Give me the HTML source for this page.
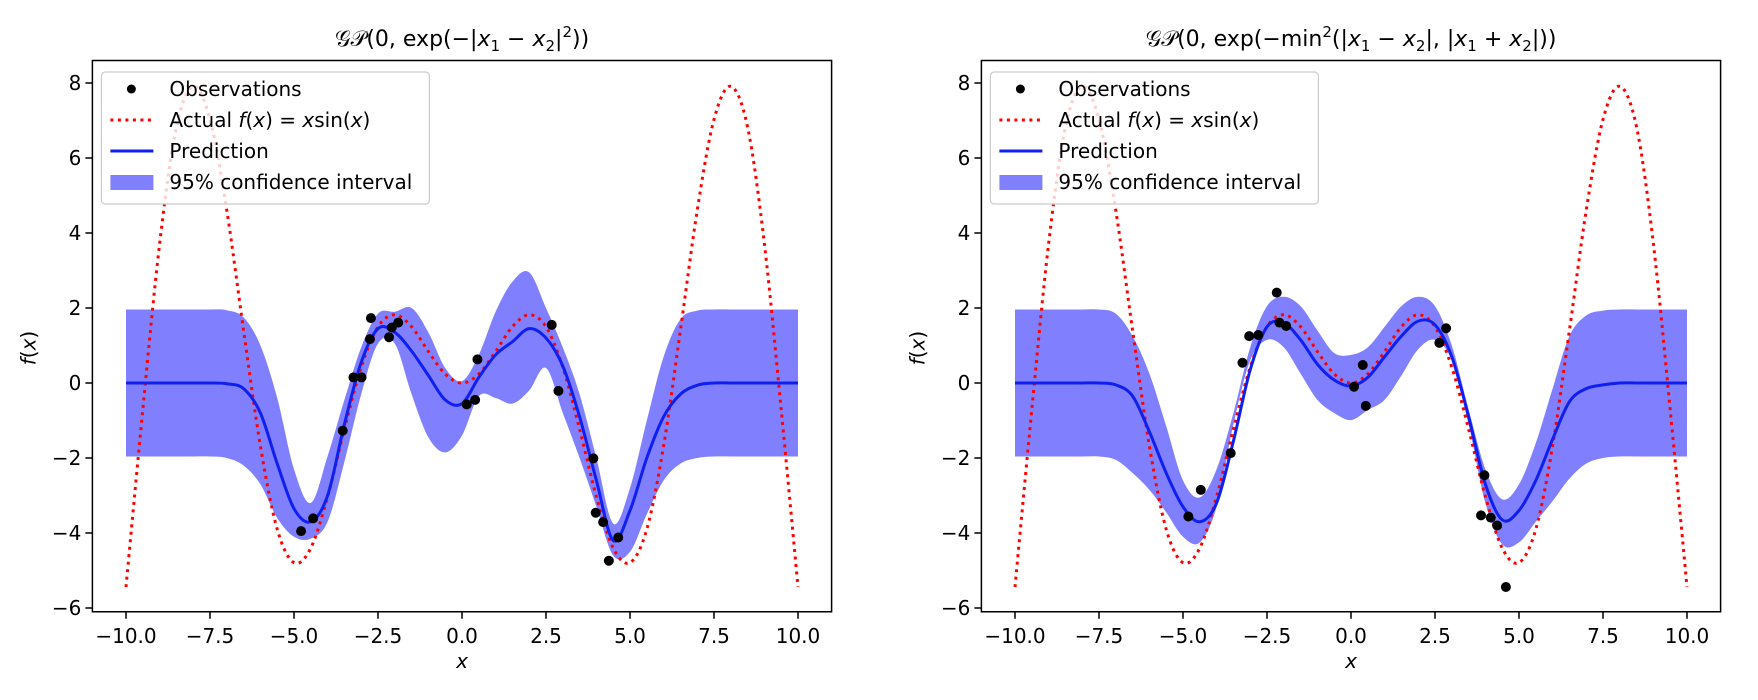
<!DOCTYPE html>
<html><head><meta charset="utf-8"><style>
html,body{margin:0;padding:0;background:#fff;}
svg{display:block;font-family:"DejaVu Sans","Liberation Sans",sans-serif;}
</style></head><body>
<svg id="fig" width="1758" height="700" viewBox="0 0 1758 700"></svg>
<script>
const gridX = [-10,-9.5,-9,-8.5,-8,-7.5,-7,-6.5,-6,-5.5,-5,-4.5,-4,-3.5,-3,-2.5,-2,-1.5,-1,-0.5,0,0.5,1,1.5,2,2.5,3,3.5,4,4.5,5,5.5,6,6.5,7,7.5,8,8.5,9,9.5,10];
const actualY = [-5.44,-0.71,3.71,6.82,7.91,7.03,4.60,1.40,-1.68,-3.90,-4.79,-4.40,-3.03,-1.23,0.42,1.50,1.82,1.50,0.84,0.24,0,0.24,0.84,1.50,1.82,1.50,0.42,-1.23,-3.03,-4.40,-4.79,-3.90,-1.68,1.40,4.60,7.03,7.91,6.82,3.71,-0.71,-5.44];

const leftMean  = [0,0,0,0,0,0,-0.02,-0.15,-0.8,-2.15,-3.35,-3.7,-3.0,-1.1,0.55,1.45,1.35,0.85,0.2,-0.45,-0.55,0.15,0.75,1.1,1.45,1.2,0.45,-0.9,-2.6,-4.2,-3.4,-2.0,-0.9,-0.3,-0.06,0,0,0,0,0,0];
const leftUpper = [1.96,1.96,1.96,1.96,1.96,1.96,1.94,1.75,1.0,-0.4,-2.3,-3.2,-1.95,-0.45,0.95,1.85,1.9,2.0,1.35,0.4,0.05,0.75,1.9,2.7,2.95,2.0,0.95,-0.3,-2.0,-3.75,-2.8,-1.0,0.7,1.7,1.93,1.96,1.96,1.96,1.96,1.96,1.96];
const leftLower = [-1.96,-1.96,-1.96,-1.96,-1.96,-1.96,-2.0,-2.2,-2.7,-3.6,-4.1,-4.15,-3.7,-2.1,-0.3,1.05,1.05,-0.3,-1.45,-1.85,-1.4,-0.35,-0.4,-0.55,-0.2,0.4,-0.8,-2.0,-3.3,-4.6,-4.5,-3.5,-2.6,-2.15,-2.0,-1.96,-1.96,-1.96,-1.96,-1.96,-1.96];
const leftObsX = [-4.79,-4.43,-3.55,-3.23,-2.99,-2.74,-2.71,-2.17,-2.09,-1.9,0.14,0.39,0.46,2.67,2.87,3.91,3.98,4.2,4.37,4.65];
const leftObsY = [-3.95,-3.61,-1.27,0.15,0.15,1.17,1.73,1.22,1.48,1.61,-0.57,-0.45,0.63,1.55,-0.21,-2.01,-3.46,-3.71,-4.74,-4.12];

const rightMean  = [0,0,0,0,0,0,-0.05,-0.35,-1.3,-2.4,-3.3,-3.7,-3.2,-1.55,0.35,1.5,1.6,1.15,0.5,0.08,-0.08,0.15,0.7,1.25,1.65,1.55,0.7,-0.9,-2.7,-3.65,-3.4,-2.6,-1.5,-0.5,-0.15,-0.05,0,0,0,0,0];
const rightUpper = [1.96,1.96,1.96,1.96,1.96,1.96,1.85,1.25,0.25,-1.15,-2.6,-3.05,-2.3,-0.8,0.95,2.05,2.3,2.05,1.4,0.8,0.75,0.95,1.5,2.05,2.3,2.05,1.0,-0.7,-2.3,-3.1,-2.7,-1.6,-0.15,1.25,1.8,1.93,1.96,1.96,1.96,1.96,1.96];
const rightLower = [-1.96,-1.96,-1.96,-1.96,-1.96,-1.96,-2.05,-2.4,-2.85,-3.45,-4.1,-4.25,-3.3,-1.1,0.6,1.15,0.95,0.25,-0.45,-0.8,-0.99,-0.72,-0.45,0.2,0.9,1.15,0.6,-1.1,-3.2,-4.3,-4.25,-3.7,-3.15,-2.55,-2.15,-2.0,-1.96,-1.96,-1.96,-1.96,-1.96];
const rightObsX = [-4.84,-4.47,-3.58,-3.23,-3.03,-2.76,-2.21,-2.13,-1.93,0.09,0.35,0.44,2.63,2.83,3.87,3.97,4.16,4.35,4.61];
const rightObsY = [-3.56,-2.85,-1.87,0.54,1.25,1.28,2.41,1.61,1.52,-0.1,0.48,-0.61,1.07,1.46,-3.53,-2.46,-3.59,-3.8,-5.44];

const xTicks = [-10,-7.5,-5,-2.5,0,2.5,5,7.5,10];
const xTickLabels = ["−10.0","−7.5","−5.0","−2.5","0.0","2.5","5.0","7.5","10.0"];
const yTicks = [-6,-4,-2,0,2,4,6,8];
const yTickLabels = ["−6","−4","−2","0","2","4","6","8"];

const NS = "http://www.w3.org/2000/svg";
const svg = document.getElementById('fig');
function mk(tag, attrs, parent){
  const e = document.createElementNS(NS, tag);
  for (const k in attrs) e.setAttribute(k, attrs[k]);
  (parent||svg).appendChild(e);
  return e;
}
function smooth(pts){
  let d = "M"+pts[0][0].toFixed(2)+","+pts[0][1].toFixed(2);
  for (let i=0;i<pts.length-1;i++){
    const p0=pts[Math.max(0,i-1)], p1=pts[i], p2=pts[i+1], p3=pts[Math.min(pts.length-1,i+2)];
    const c1=[p1[0]+(p2[0]-p0[0])/6, p1[1]+(p2[1]-p0[1])/6];
    const c2=[p2[0]-(p3[0]-p1[0])/6, p2[1]-(p3[1]-p1[1])/6];
    d += " C"+c1[0].toFixed(2)+","+c1[1].toFixed(2)+" "+c2[0].toFixed(2)+","+c2[1].toFixed(2)+" "+p2[0].toFixed(2)+","+p2[1].toFixed(2);
  }
  return d;
}

function panel(cfg){
  const x0 = cfg.x0, ppx = 33.6, ppy = 37.5, y0 = 383;
  const sx = v => x0 + v*ppx;
  const sy = v => y0 - v*ppy;
  const left = sx(-11), right = sx(11), top = sy(8.6), bottom = sy(-6.1);
  const g = mk('g', {});
  
  

  // band
  const up = gridX.map((x,i)=>[sx(x), sy(cfg.upper[i])]);
  const lo = gridX.map((x,i)=>[sx(x), sy(cfg.lower[i])]).reverse();
  const band = mk('path', {d: smooth(up) + " L" + smooth(lo).slice(1) + " Z", fill:"#8080ff", stroke:"none"}, g);
  
  

  // actual
  const act = mk('path', {d: smooth(gridX.map((x,i)=>[sx(x), sy(actualY[i])])), fill:"none", stroke:"#ff0000", "stroke-width":3, "stroke-dasharray":"3 4.5"}, g);
  
  

  // mean
  const mean = mk('path', {d: smooth(gridX.map((x,i)=>[sx(x), sy(cfg.mean[i])])), fill:"none", stroke:"#0f1ff0", "stroke-width":3}, g);
  
  

  // obs
  cfg.obsX.forEach((x,i)=>{
    const c = mk('circle', {cx: sx(x), cy: sy(cfg.obsY[i]), r: 5, fill:"#000"}, g);
    
    
  });

  // frame
  const fr = mk('rect', {x:left, y:top, width:right-left, height:bottom-top, fill:"none", stroke:"#000", "stroke-width":1.5}, g);
  
  

  xTicks.forEach((v,i)=>{
    mk('line', {x1:sx(v), x2:sx(v), y1:bottom, y2:bottom+7, stroke:"#000", "stroke-width":1.5}, g);
    const t = mk('text', {x:sx(v), y:bottom+31, "text-anchor":"middle", "font-size":20}, g);
    t.textContent = xTickLabels[i];
    
    
  });
  yTicks.forEach((v,i)=>{
    mk('line', {x1:left-7, x2:left, y1:sy(v), y2:sy(v), stroke:"#000", "stroke-width":1.5}, g);
    const t = mk('text', {x:left-11, y:sy(v)+7, "text-anchor":"end", "font-size":20}, g);
    t.textContent = yTickLabels[i];
    
    
  });

  const xl = mk('text', {x:x0, y:668, "text-anchor":"middle", "font-size":20, "font-style":"italic"}, g);
  xl.textContent = "x";
  
  

  const yl = mk('text', {x:0, y:0, "text-anchor":"middle", "font-size":20, transform:"translate("+(left-57)+",348) rotate(-90)"}, g);
  yl.innerHTML = '<tspan font-style="italic">f</tspan>(<tspan font-style="italic">x</tspan>)';
  
  

  const ti = mk('text', {x:x0, y:46, "text-anchor":"middle", "font-size":22}, g);
  ti.innerHTML = cfg.title;
  
  

  // legend
  const lg = mk('g', {}, g);
  
  
  const lx = left + 9;
  mk('rect', {x:lx, y:72, width:328, height:132, rx:4, fill:"#fff", "fill-opacity":0.8, stroke:"#ccc", "stroke-width":1.2}, lg);
  const ey = [89,120,151,182];
  mk('circle', {cx:lx+30, cy:ey[0], r:4.5, fill:"#000"}, lg);
  mk('line', {x1:lx+9, x2:lx+52, y1:ey[1], y2:ey[1], stroke:"#ff0000", "stroke-width":3, "stroke-dasharray":"3 4.5"}, lg);
  mk('line', {x1:lx+9, x2:lx+52, y1:ey[2], y2:ey[2], stroke:"#0f1ff0", "stroke-width":3}, lg);
  mk('rect', {x:lx+9, y:ey[3]-7, width:43, height:15, fill:"#8080ff"}, lg);
  const labels = ['Observations','Actual <tspan font-style="italic">f</tspan>(<tspan font-style="italic">x</tspan>) = <tspan font-style="italic">x</tspan>sin(<tspan font-style="italic">x</tspan>)','Prediction','95% confidence interval'];
  const names = ['legend-observations','legend-actual','legend-prediction','legend-confidence'];
  labels.forEach((l,i)=>{
    const t = mk('text', {x:lx+68, y:ey[i]+7, "font-size":20}, lg);
    t.innerHTML = l;
    
    
  });
}

panel({name:'left-chart', x0:462, mean:leftMean, upper:leftUpper, lower:leftLower, obsX:leftObsX, obsY:leftObsY,
  title:'𝒢𝒫(0, exp(−|<tspan font-style="italic">x</tspan><tspan font-size="15" dy="5">1</tspan><tspan dy="-5"> − </tspan><tspan font-style="italic">x</tspan><tspan font-size="15" dy="5">2</tspan><tspan dy="-5">|</tspan><tspan font-size="15" dy="-9">2</tspan><tspan dy="9">))</tspan>'});
panel({name:'right-chart', x0:1351, mean:rightMean, upper:rightUpper, lower:rightLower, obsX:rightObsX, obsY:rightObsY,
  title:'𝒢𝒫(0, exp(−min<tspan font-size="15" dy="-9">2</tspan><tspan dy="9">(|</tspan><tspan font-style="italic">x</tspan><tspan font-size="15" dy="5">1</tspan><tspan dy="-5"> − </tspan><tspan font-style="italic">x</tspan><tspan font-size="15" dy="5">2</tspan><tspan dy="-5">|, |</tspan><tspan font-style="italic">x</tspan><tspan font-size="15" dy="5">1</tspan><tspan dy="-5"> + </tspan><tspan font-style="italic">x</tspan><tspan font-size="15" dy="5">2</tspan><tspan dy="-5">|))</tspan>'});
</script>
</body></html>
